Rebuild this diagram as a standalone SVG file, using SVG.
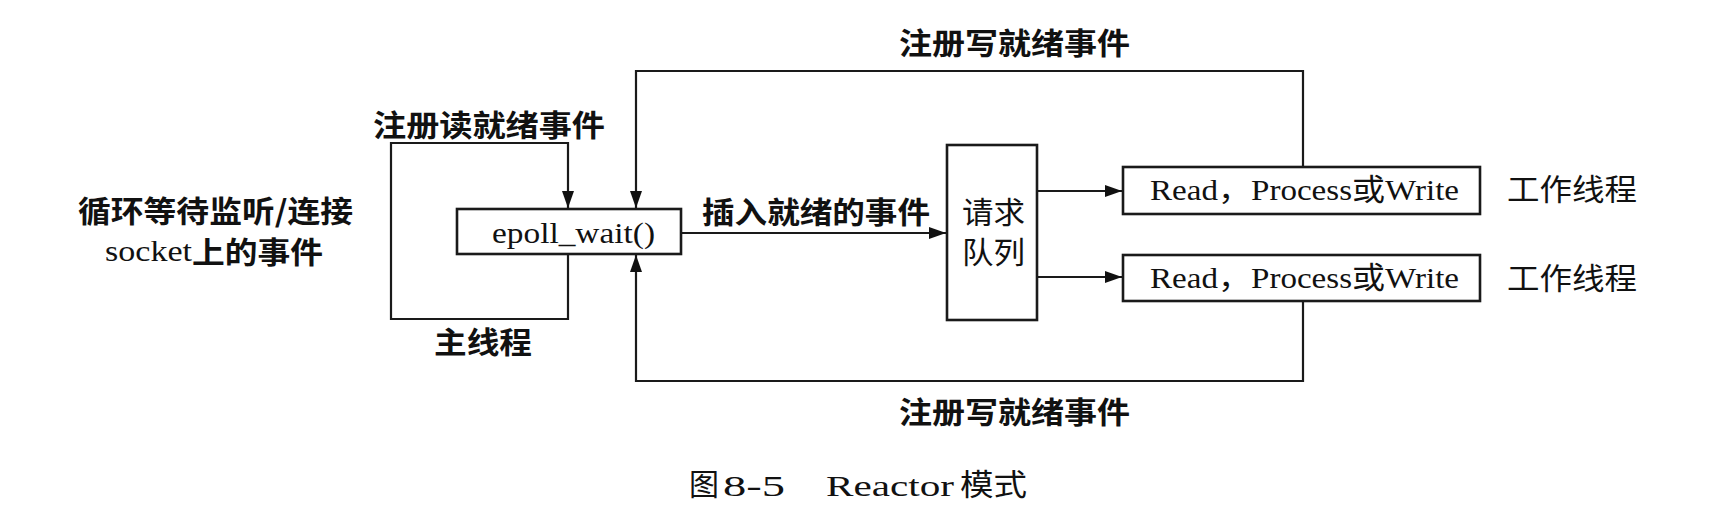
<svg xmlns="http://www.w3.org/2000/svg" width="1722" height="528" viewBox="0 0 1722 528">
<style>
.ln{fill:none;stroke:#1a1a1a;stroke-width:2.2}
.bx{fill:#fff;stroke:#1a1a1a;stroke-width:2.6}
.cjkb{font-family:"Noto Sans CJK SC","Noto Sans",sans-serif;font-weight:700;font-size:30px;fill:#111}
.cjk{font-family:"Noto Sans CJK SC","Noto Sans",sans-serif;font-weight:400;font-size:30px;fill:#111}
.ser{font-family:"Liberation Serif","Noto Sans CJK SC",serif;font-size:30px;fill:#111}
</style>
<defs>
<marker id="ah" markerUnits="userSpaceOnUse" markerWidth="18" markerHeight="12" refX="17" refY="6" orient="auto">
<path d="M0,0 L17,6 L0,12 Z" fill="#111"/>
</marker>
</defs>
<rect width="1722" height="528" fill="#fff"/>
<g id="connectors">
<path class="ln" d="M568,254 V319 H391 V143 H568 V208" marker-end="url(#ah)"/>
<path class="ln" d="M1303,167 V71 H636 V208" marker-end="url(#ah)"/>
<path class="ln" d="M1303,301 V381 H636 V255" marker-end="url(#ah)"/>
<path class="ln" d="M681,233 H946" marker-end="url(#ah)"/>
<path class="ln" d="M1037,191 H1122" marker-end="url(#ah)"/>
<path class="ln" d="M1037,277 H1122" marker-end="url(#ah)"/>
</g>
<g id="epoll">
<rect class="bx" x="457" y="209" width="224" height="45"/>
<text class="ser" x="492" y="243" textLength="163" lengthAdjust="spacingAndGlyphs">epoll_wait()</text>
</g>
<g id="queue">
<rect class="bx" x="947" y="145" width="90" height="175"/>
<text class="cjk" x="962" y="223" textLength="63" lengthAdjust="spacingAndGlyphs">请求</text>
<text class="cjk" x="962" y="263" textLength="63" lengthAdjust="spacingAndGlyphs">队列</text>
</g>
<g id="worker1">
<rect class="bx" x="1123" y="167" width="357" height="47"/>
<text class="ser" x="1150" y="200" textLength="309" lengthAdjust="spacingAndGlyphs">Read，Process或Write</text>
<text class="cjk" x="1507" y="200" textLength="130" lengthAdjust="spacingAndGlyphs">工作线程</text>
</g>
<g id="worker2">
<rect class="bx" x="1123" y="255" width="357" height="46"/>
<text class="ser" x="1150" y="288" textLength="309" lengthAdjust="spacingAndGlyphs">Read，Process或Write</text>
<text class="cjk" x="1507" y="289" textLength="130" lengthAdjust="spacingAndGlyphs">工作线程</text>
</g>
<g id="labels">
<text class="cjkb" x="899" y="54" textLength="231" lengthAdjust="spacingAndGlyphs">注册写就绪事件</text>
<text class="cjkb" x="373" y="136" textLength="232" lengthAdjust="spacingAndGlyphs">注册读就绪事件</text>
<text class="cjkb" x="78" y="222" textLength="275" lengthAdjust="spacingAndGlyphs">循环等待监听/连接</text>
<text class="ser" x="105" y="261" textLength="87" lengthAdjust="spacingAndGlyphs">socket</text>
<text class="cjkb" x="192" y="263" textLength="131" lengthAdjust="spacingAndGlyphs">上的事件</text>
<text class="cjkb" x="702" y="223" textLength="228" lengthAdjust="spacingAndGlyphs">插入就绪的事件</text>
<text class="cjkb" x="434" y="353" textLength="98" lengthAdjust="spacingAndGlyphs">主线程</text>
<text class="cjkb" x="899" y="423" textLength="231" lengthAdjust="spacingAndGlyphs">注册写就绪事件</text>
</g>
<g id="caption">
<text class="cjk" x="689" y="495" font-size="32" textLength="30" lengthAdjust="spacingAndGlyphs">图</text>
<text class="ser" x="723" y="496" font-size="34" textLength="62" lengthAdjust="spacingAndGlyphs">8-5</text>
<text class="ser" x="826" y="496" font-size="34" textLength="128" lengthAdjust="spacingAndGlyphs">Reactor</text>
<text class="cjk" x="960" y="495" font-size="32" textLength="67" lengthAdjust="spacingAndGlyphs">模式</text>
</g>
</svg>
